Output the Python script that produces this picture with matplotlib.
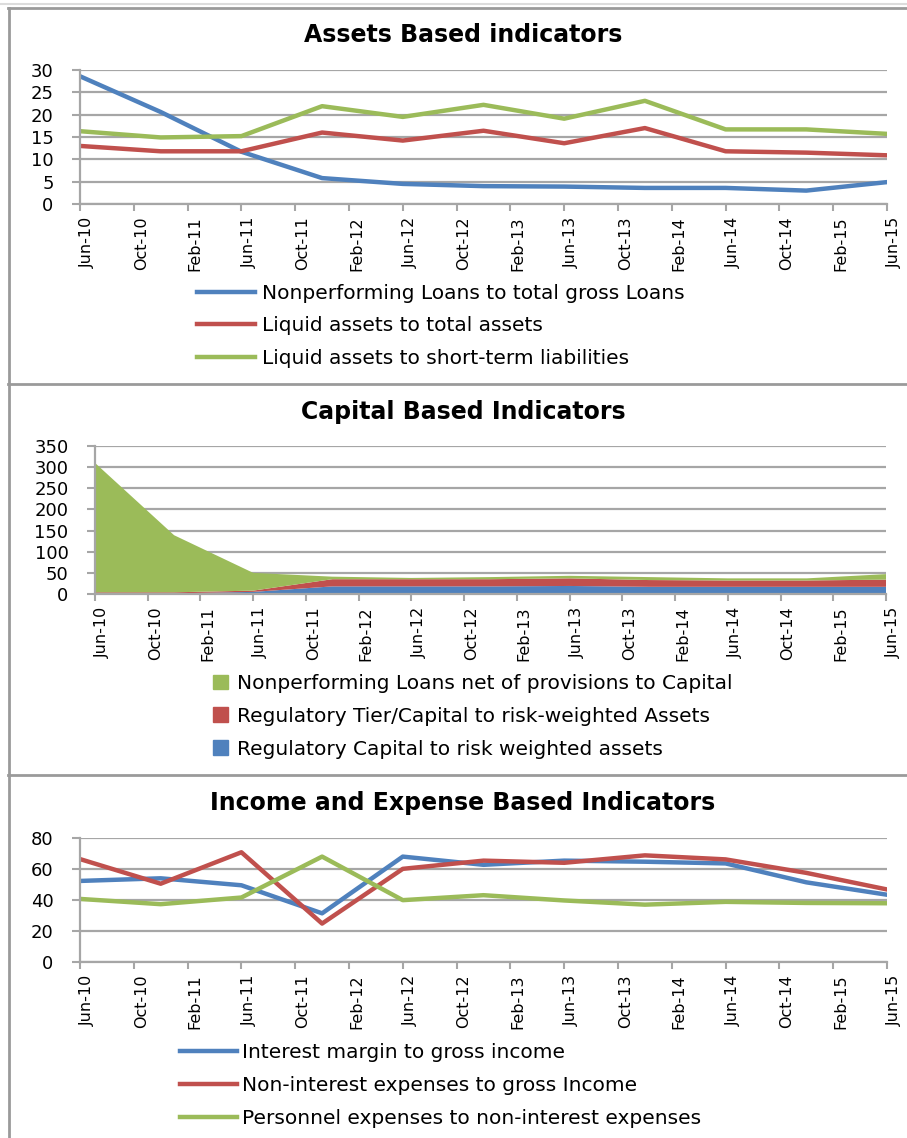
import matplotlib.pyplot as plt
from matplotlib.lines import Line2D
from matplotlib.patches import Patch
import pandas as pd

# half-year observations
periods = ['Jun-10', 'Dec-10', 'Jun-11', 'Dec-11', 'Jun-12', 'Dec-12',
           'Jun-13', 'Dec-13', 'Jun-14', 'Dec-14', 'Jun-15']
tick_labels = ['Jun-10', 'Oct-10', 'Feb-11', 'Jun-11', 'Oct-11', 'Feb-12',
               'Jun-12', 'Oct-12', 'Feb-13', 'Jun-13', 'Oct-13', 'Feb-14',
               'Jun-14', 'Oct-14', 'Feb-15', 'Jun-15']

# Assets based indicators
npl_to_loans = [28.6, 20.6, 11.7, 5.8, 4.5, 4.0, 3.9, 3.6, 3.6, 3.0, 4.9]
liquid_to_assets = [13.0, 11.8, 11.8, 16.0, 14.2, 16.4, 13.6, 17.0, 11.8, 11.5, 10.9]
liquid_to_st_liab = [16.3, 14.9, 15.2, 21.9, 19.5, 22.2, 19.1, 23.1, 16.7, 16.7, 15.7]

# Capital based indicators (stacked layers)
reg_capital_rwa = [1.5, 1.5, 5, 18, 18, 18, 19, 17, 17, 17, 17]
reg_tier_rwa = [2.5, 2.5, 3, 17, 17, 17, 18, 16, 15, 15, 17]
npl_net_capital = [306, 135, 42, 6, 3, 5, 6, 7, 5, 5, 13]

# Income and expense based indicators
interest_margin = [52.3, 54.0, 49.5, 31.4, 68.0, 62.7, 65.4, 64.7, 63.6, 51.4, 43.4]
nonint_expenses = [66.4, 50.5, 70.8, 24.8, 60.1, 65.4, 64.0, 68.8, 66.2, 57.5, 46.8]
personnel_expenses = [40.7, 37.3, 41.6, 68.0, 39.9, 43.1, 39.7, 37.0, 38.8, 38.1, 37.9]

BLUE = '#4F81BD'
RED = '#C0504D'
GREEN = '#9BBB59'
GRID = '#a6a6a6'

W, H = 907, 1138


def months(labels):
    d = pd.to_datetime(labels, format='%b-%y')
    return [(x.year - 2010) * 12 + x.month - 6 for x in d]


x = months(periods)
xt = months(tick_labels)


def fx(px):
    return px / W


def fy(py):
    return 1 - py / H


fig = plt.figure(figsize=(W / 100, H / 100), dpi=100)


def make_axes(left, right, top, bottom):
    ax = fig.add_axes([fx(left), fy(bottom), fx(right - left), (bottom - top) / H])
    ax.set_xticks(xt)
    # rotated labels sit just right of their tick, like the spreadsheet chart
    ax.set_xticklabels(tick_labels, rotation=90, fontsize=11.5,
                       rotation_mode='anchor', ha='right', va='top')
    ax.set_xlim(0, 60)
    ax.tick_params(axis='x', length=5, color=GRID, width=1.5, pad=4)
    ax.tick_params(axis='y', labelsize=13, length=6, color=GRID, width=1.5, pad=13)
    ax.grid(axis='y', color=GRID, lw=1.6)
    ax.set_axisbelow(True)
    for s in ['top', 'right']:
        ax.spines[s].set_visible(False)
    for s in ['left', 'bottom']:
        ax.spines[s].set_color(GRID)
        ax.spines[s].set_linewidth(1.6)
    return ax


# panel frames
fig.add_artist(Line2D([0, 1], [fy(4), fy(4)], color='#dcdcdc', lw=1.5))
for yy in [8, 384, 775]:
    fig.add_artist(Line2D([fx(8), 1], [fy(yy), fy(yy)], color='#9a9a9a', lw=2))
fig.add_artist(Line2D([fx(8.5), fx(8.5)], [fy(8), 0], color='#9a9a9a', lw=2))

# --- Assets based indicators
ax1 = make_axes(80, 887, 70, 204)
ax1.set_ylim(0, 30)
ax1.set_yticks(range(0, 31, 5))
ax1.plot(x, npl_to_loans, color=BLUE, lw=3.2, label='Nonperforming Loans to total gross Loans')
ax1.plot(x, liquid_to_assets, color=RED, lw=3.2, label='Liquid assets to total assets')
ax1.plot(x, liquid_to_st_liab, color=GREEN, lw=3.2, label='Liquid assets to short-term liabilities')
fig.text(fx(463), fy(35), 'Assets Based indicators', ha='center', va='center',
         fontsize=17, fontweight='bold')
ax1.legend(loc='upper left', bbox_to_anchor=(fx(197), fy(284)), bbox_transform=fig.transFigure,
           frameon=False, fontsize=14.5, handlelength=2.9, handletextpad=0.35,
           labelspacing=0.66, borderaxespad=0, borderpad=0)

# --- Capital based indicators
ax2 = make_axes(95, 886, 446, 594)
ax2.set_ylim(0, 350)
ax2.set_yticks(range(0, 351, 50))
ax2.stackplot(x, reg_capital_rwa, reg_tier_rwa, npl_net_capital,
              colors=[BLUE, RED, GREEN], lw=0)
fig.text(fx(463), fy(412), 'Capital Based Indicators', ha='center', va='center',
         fontsize=17, fontweight='bold')
handles2 = [Patch(color=GREEN, label='Nonperforming Loans net of provisions to Capital'),
            Patch(color=RED, label='Regulatory Tier/Capital to risk-weighted Assets'),
            Patch(color=BLUE, label='Regulatory Capital to risk weighted assets')]
ax2.legend(handles=handles2, loc='upper left', bbox_to_anchor=(fx(213), fy(674)),
           bbox_transform=fig.transFigure, frameon=False, fontsize=14.5,
           handlelength=0.75, handleheight=0.75, handletextpad=0.45,
           labelspacing=0.69, borderaxespad=0, borderpad=0)

# --- Income and expense based indicators
ax3 = make_axes(80, 887, 838, 962)
ax3.set_ylim(0, 80)
ax3.set_yticks(range(0, 81, 20))
ax3.plot(x, interest_margin, color=BLUE, lw=3.2, label='Interest margin to gross income')
ax3.plot(x, nonint_expenses, color=RED, lw=3.2, label='Non-interest expenses to gross Income')
ax3.plot(x, personnel_expenses, color=GREEN, lw=3.2, label='Personnel expenses to non-interest expenses')
fig.text(fx(463), fy(803), 'Income and Expense Based Indicators', ha='center', va='center',
         fontsize=17, fontweight='bold')
ax3.legend(loc='upper left', bbox_to_anchor=(fx(180), fy(1043)), bbox_transform=fig.transFigure,
           frameon=False, fontsize=14.5, handlelength=2.85, handletextpad=0.25,
           labelspacing=0.69, borderaxespad=0, borderpad=0)

fig.savefig('out.png', dpi=100)
